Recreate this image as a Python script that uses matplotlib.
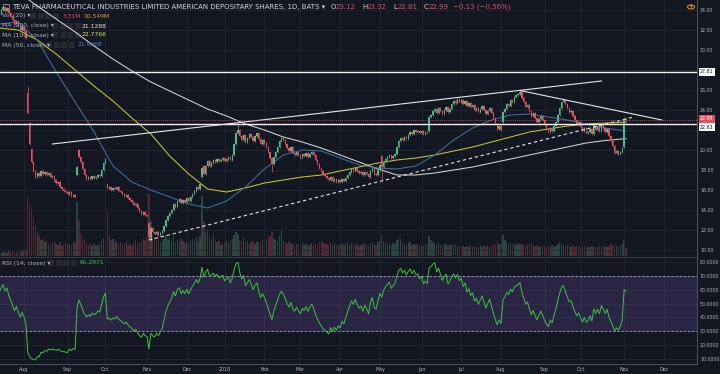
import numpy as np
import pandas as pd
import matplotlib
matplotlib.use("Agg")
import matplotlib.pyplot as plt
from matplotlib.patches import Rectangle, Circle

# ------------------------------------------------------------------ data
closes_2017_06 = [32.4, 32.9, 32.6, 33.1, 32.8, 32.2, 32.5, 32.0, 31.6, 31.9, 32.3, 31.8, 32.2]
closes_2017_07 = [32.6, 32.4, 32.9, 33.3, 33.0, 33.5, 33.8, 33.6, 34.0, 34.3, 33.9, 34.2, 33.7, 33.4,
                  33.0, 32.6, 32.9, 32.4, 32.0, 32.3]
closes_2017_08 = [31.9, 31.2, 23.7, 20.6, 18.8, 17.9, 17.3, 17.7, 17.4, 17.9, 17.6, 17.8, 17.5, 17.7,
                  17.3, 17.4, 17.0, 16.7, 16.8, 16.3, 16.1, 15.9, 15.8]
closes_2017_09 = [15.6, 15.8, 15.4, 15.5, 15.3, 18.3, 19.3, 18.8, 18.1, 17.5, 17.1, 17.3, 17.1, 17.4,
                  17.2, 17.3, 17.5, 17.4, 18.0, 18.7]
closes_2017_10 = [19.1, 16.2, 16.3, 16.0, 16.2, 16.1, 16.3, 15.9, 15.8, 15.6, 15.4, 15.5, 15.2, 15.0,
                  14.8, 14.5, 14.6, 14.2, 13.9, 13.6, 13.8, 13.5]
closes_2017_11 = [13.4, 11.3, 12.2, 11.8, 11.6, 11.8, 11.5, 11.7, 11.9, 12.4, 13.0, 13.4, 13.7, 14.0,
                  14.6, 14.3, 14.9, 15.1, 14.7, 15.0, 14.8]
closes_2017_12 = [15.2, 14.9, 15.3, 15.6, 15.9, 16.3, 16.1, 16.6, 18.2, 17.6, 18.4, 18.9, 18.4, 18.7,
                  19.0, 18.8, 19.1, 18.9, 19.0, 19.2]
closes_2018_01 = [18.9, 19.1, 19.3, 19.0, 19.5, 20.6, 21.7, 22.0, 21.4, 21.0, 21.5, 20.8, 21.2, 21.6,
                  21.3, 20.9, 21.4, 21.7, 21.1, 20.6, 21.0]
closes_2018_02 = [20.7, 20.3, 19.8, 19.2, 18.6, 19.3, 19.8, 20.3, 20.9, 21.2, 21.0, 20.6, 20.2, 19.9,
                  20.3, 19.7, 19.5, 19.8, 19.5]
closes_2018_03 = [19.2, 19.6, 19.4, 19.7, 19.3, 19.6, 19.8, 19.5, 19.0, 18.6, 18.2, 17.9, 17.6, 17.4,
                  17.2, 17.0, 17.3, 16.9, 17.1, 16.8, 17.0]
closes_2018_04 = [16.8, 17.1, 16.9, 17.2, 17.5, 17.8, 18.1, 17.9, 18.2, 17.9, 17.7, 17.8, 17.5, 17.8,
                  17.6, 17.3, 17.9, 18.2, 17.6, 17.5, 18.0]
closes_2018_05 = [18.5, 18.3, 18.8, 19.1, 19.3, 19.5, 19.2, 19.4, 19.6, 20.3, 20.9, 21.2, 21.0, 21.3,
                  21.1, 21.5, 21.8, 21.6, 22.0, 21.8, 21.9, 21.7]
closes_2018_06 = [21.9, 21.6, 21.8, 21.7, 23.3, 23.5, 23.9, 24.1, 23.7, 24.2, 23.9, 23.6, 24.0, 24.3,
                  23.8, 24.1, 24.6, 24.9, 24.7, 25.1, 24.8]
closes_2018_07 = [25.0, 24.6, 24.9, 24.4, 24.7, 24.3, 24.5, 24.0, 24.2, 23.8, 24.1, 24.4, 24.0, 23.6,
                  23.9, 24.2, 23.7, 23.2, 22.6, 22.1, 22.4]
closes_2018_08 = [22.0, 23.8, 24.1, 24.6, 24.4, 25.0, 24.8, 25.3, 25.5, 25.6, 25.8, 25.2, 24.8, 24.3,
                  24.5, 23.9, 23.4, 23.7, 23.2, 22.8, 23.1, 23.4, 23.0]
closes_2018_09 = [22.5, 22.1, 21.8, 22.2, 21.9, 22.4, 22.8, 23.5, 24.2, 24.8, 25.0, 24.6, 24.2, 23.8,
                  23.9, 23.4, 23.0, 22.6, 22.8]
closes_2018_10 = [22.3, 21.9, 22.2, 21.7, 21.8, 22.1, 21.6, 22.4, 22.0, 22.3, 21.9, 22.5, 22.2, 21.8,
                  22.1, 21.4, 20.9, 20.4, 19.7, 19.9, 19.6, 19.8, 20.2]
closes_2018_11 = [23.12, 22.99]

# opening gaps / notable wicks (date -> price)
gap_opens = {"2017-08-03": 25.7, "2017-08-04": 22.7, "2017-08-07": 20.1, "2017-09-11": 17.5,
             "2017-09-12": 20.0, "2017-10-03": 16.6, "2017-11-02": 12.7, "2017-11-03": 11.2,
             "2017-12-13": 17.3, "2017-12-14": 18.4, "2018-05-02": 19.4, "2018-06-07": 21.9,
             "2018-08-02": 22.8, "2018-11-01": 20.3, "2018-11-02": 23.12}
extra_highs = {"2017-08-03": 26.4, "2018-01-11": 22.7, "2018-08-15": 26.0, "2018-11-02": 23.32}
extra_lows = {"2017-11-02": 11.0, "2017-11-03": 10.9, "2018-02-07": 17.8, "2018-05-02": 17.0,
              "2018-11-02": 22.81}

vol_2017_06 = [1.2, 1.0, 1.3, 1.1, 1.2, 1.4, 1.0, 1.2, 1.3, 1.1, 1.2, 1.0, 1.3]
vol_2017_07 = [1.3, 1.1, 1.4, 1.2, 1.5, 1.3, 1.6, 1.2, 1.4, 1.8, 1.5, 1.3, 1.9, 1.6, 2.0, 1.7, 1.5,
               1.8, 2.1, 1.9]
vol_2017_08 = [2.2, 2.6, 23.5, 21.0, 19.5, 15.5, 12.0, 9.5, 8.0, 6.5, 7.0, 5.5, 6.0, 5.0, 4.8, 5.5,
               6.2, 5.0, 4.5, 5.8, 4.2, 4.6, 5.2]
vol_2017_09 = [4.8, 5.0, 4.4, 5.6, 5.2, 21.5, 14.5, 9.0, 7.5, 6.5, 5.0, 4.5, 5.2, 4.2, 4.8, 4.0, 4.6,
               5.0, 6.0, 7.2]
vol_2017_10 = [6.0, 17.5, 8.0, 6.5, 7.0, 5.8, 6.2, 5.0, 5.5, 4.8, 5.2, 6.0, 4.6, 5.0, 4.2, 5.4, 6.5,
               5.0, 5.8, 6.2, 7.0, 6.4]
vol_2017_11 = [7.5, 25.0, 14.0, 9.0, 7.5, 6.0, 6.8, 5.5, 6.2, 7.0, 8.5, 6.5, 7.2, 6.0, 8.0, 5.5, 6.5,
               5.8, 7.0, 6.0, 5.2]
vol_2017_12 = [5.8, 5.0, 6.2, 7.0, 6.5, 7.5, 6.0, 8.0, 24.0, 13.5, 9.5, 11.0, 8.5, 7.0, 9.0, 6.5,
               5.5, 6.0, 4.5, 5.0]
vol_2018_01 = [5.5, 6.0, 5.2, 6.5, 7.0, 8.5, 9.5, 9.0, 6.5, 6.0, 7.5, 5.5, 6.0, 5.0, 5.8, 6.2, 4.8,
               5.5, 6.0, 5.2, 6.5]
vol_2018_02 = [6.0, 7.0, 7.5, 8.0, 9.5, 7.0, 6.5, 6.0, 8.0, 11.0, 6.0, 5.5, 5.0, 5.8, 4.8, 5.2, 4.5,
               5.0, 4.6]
vol_2018_03 = [4.8, 5.2, 4.5, 5.0, 4.2, 4.6, 5.4, 4.8, 5.0, 4.4, 5.6, 6.0, 5.2, 4.8, 5.0, 4.5, 5.5,
               4.8, 5.2, 4.6, 4.4]
vol_2018_04 = [4.2, 4.8, 4.5, 5.0, 5.5, 4.6, 5.2, 4.8, 4.5, 5.0, 4.2, 4.6, 4.8, 5.2, 4.5, 4.0, 4.8,
               5.5, 5.0, 4.6, 5.8]
vol_2018_05 = [6.0, 8.5, 6.0, 5.5, 5.0, 4.8, 4.5, 5.2, 4.8, 6.5, 7.5, 6.8, 5.5, 5.0, 4.8, 5.2, 5.8,
               4.6, 5.0, 4.5, 4.8, 4.4]
vol_2018_06 = [4.5, 4.2, 4.8, 5.0, 8.0, 6.5, 5.8, 5.0, 4.8, 5.2, 4.6, 4.5, 5.0, 4.8, 4.2, 4.6, 5.0,
               4.5, 4.8, 4.2, 4.0]
vol_2018_07 = [3.8, 4.2, 3.6, 4.0, 3.8, 4.4, 3.5, 4.0, 3.8, 3.6, 4.2, 3.8, 4.0, 3.6, 4.5, 3.8, 4.0,
               4.6, 5.0, 5.5, 4.8]
vol_2018_08 = [5.0, 8.5, 6.5, 5.8, 5.0, 5.4, 4.8, 5.2, 4.6, 5.0, 4.8, 4.5, 5.0, 4.2, 4.6, 4.8, 5.2,
               4.4, 4.0, 4.5, 3.8, 4.2, 4.0]
vol_2018_09 = [4.2, 3.8, 4.0, 3.6, 4.4, 3.8, 4.0, 4.8, 5.5, 5.0, 4.6, 4.2, 4.8, 4.0, 3.8, 4.2, 3.6,
               4.0, 3.8]
vol_2018_10 = [3.8, 3.6, 4.0, 3.4, 3.8, 3.6, 4.2, 3.8, 3.5, 3.8, 4.0, 3.6, 3.8, 4.2, 3.6, 4.0, 4.8,
               4.4, 5.0, 4.2, 3.8, 4.5, 4.8]
vol_2018_11 = [6.4, 3.31]

# moving averages, sampled every 10 bars from 2017-07-13, plus the last bar
ma200 = [36.2, 35.8, 34.4, 33.1, 31.8, 30.4, 29.1, 27.9, 26.8, 25.9, 25.0, 24.1, 23.4, 22.6, 22.0,
         21.3, 20.8, 20.2, 19.5, 18.8, 18.1, 17.5, 17.5, 17.7, 18.0, 18.3, 18.7, 19.1, 19.5, 19.9,
         20.3, 20.7, 20.95, 21.12, 21.1288]
ma100 = [32.2, 32.0, 31.0, 29.6, 28.0, 26.4, 24.9, 23.2, 21.6, 19.4, 17.6, 16.1, 15.8, 16.2, 16.7,
         17.0, 17.3, 17.5, 17.9, 18.3, 18.7, 19.0, 19.2, 19.5, 19.9, 20.3, 20.8, 21.3, 21.8, 22.1,
         22.4, 22.6, 22.7, 22.77, 22.7766]
ma50 = [32.6, 32.8, 31.0, 27.8, 24.8, 21.8, 18.4, 16.8, 16.0, 15.3, 14.6, 14.2, 14.9, 16.3, 18.1,
        19.5, 20.0, 19.9, 19.2, 18.5, 18.2, 18.1, 18.4, 19.5, 21.0, 22.2, 23.0, 23.5, 23.6, 23.3,
        23.0, 22.6, 22.2, 21.92, 21.9068]

# drawing tools
trend_upper = [("2017-08-22", 20.6), ("2018-10-16", 26.9)]
trend_dashed = [("2017-11-02", 11.0), ("2018-11-08", 23.3)]
trend_desc = [("2018-08-15", 25.95), ("2018-11-30", 23.0)]
level_lines = [27.81, 22.63]
last_price = 22.99

month_labels = ["Aug", "Sep", "Oct", "Nov", "Dec", "2018", "Feb", "Mar", "Apr", "May", "Jun",
                "Jul", "Aug", "Sep", "Oct", "Nov", "Dec"]
price_ticks = list(range(10, 35, 2))
hidden_price_labels = [28, 22]      # covered by the price boxes on the scale
rsi_ticks = list(range(10, 90, 10))

# ------------------------------------------------------------------ prep
holidays = ["2017-07-04", "2017-09-04", "2017-11-23", "2017-12-25", "2018-01-01", "2018-01-15",
            "2018-02-19", "2018-03-30", "2018-05-28", "2018-07-04", "2018-09-03", "2018-11-22",
            "2018-12-05", "2018-12-25"]
cbd = pd.offsets.CustomBusinessDay(holidays=holidays)
all_dates = pd.date_range("2017-06-14", "2018-12-31", freq=cbd)

closes = np.array(closes_2017_06 + closes_2017_07 + closes_2017_08 + closes_2017_09 + closes_2017_10
                  + closes_2017_11 + closes_2017_12 + closes_2018_01 + closes_2018_02 + closes_2018_03
                  + closes_2018_04 + closes_2018_05 + closes_2018_06 + closes_2018_07 + closes_2018_08
                  + closes_2018_09 + closes_2018_10 + closes_2018_11)
vols = np.array(vol_2017_06 + vol_2017_07 + vol_2017_08 + vol_2017_09 + vol_2017_10 + vol_2017_11
                + vol_2017_12 + vol_2018_01 + vol_2018_02 + vol_2018_03 + vol_2018_04 + vol_2018_05
                + vol_2018_06 + vol_2018_07 + vol_2018_08 + vol_2018_09 + vol_2018_10 + vol_2018_11)
n = len(closes)
x = np.arange(n)


def idx(d):
    return all_dates.get_loc(pd.Timestamp(d))


opens = np.r_[closes[0], closes[:-1]].astype(float)
for d, v in gap_opens.items():
    opens[idx(d)] = v
WICK = 0.12
highs = np.maximum(opens, closes) + WICK
lows = np.minimum(opens, closes) - WICK
for d, v in extra_highs.items():
    highs[idx(d)] = v
for d, v in extra_lows.items():
    lows[idx(d)] = v

# RSI(14), Wilder smoothing
period = 14
delta = np.diff(closes)
gain = np.clip(delta, 0, None)
loss = np.clip(-delta, 0, None)
rsi = np.full(n, np.nan)
ag, al = gain[:period].mean(), loss[:period].mean()
rsi[period] = 100 - 100 / (1 + ag / al)
for i in range(period + 1, n):
    ag = (ag * (period - 1) + gain[i - 1]) / period
    al = (al * (period - 1) + loss[i - 1]) / period
    rsi[i] = 100 - 100 / (1 + ag / al)

ma_x = list(range(idx("2017-07-13"), n, 10)) + [n - 1]

# ------------------------------------------------------------------ style
BG = "#131722"
GRID = "#22262f"
TXT = "#b2b5be"
UP = "#53b987"
DN = "#eb4d5c"
FS_AX = 3.45

W, H = 720, 374
fig = plt.figure(figsize=(W / 100, H / 100), dpi=100, facecolor=BG)
RIGHT = 697
ax = fig.add_axes([0, 1 - 256 / H, RIGHT / W, 256 / H])
axr = fig.add_axes([0, 1 - 363 / H, RIGHT / W, 105 / H])
axv = ax.twinx()
ax.set_zorder(axv.get_zorder() + 1)
ax.patch.set_visible(False)
axv.set_facecolor(BG)
axr.set_facecolor(BG)

aug1 = idx("2017-08-01")
px_per_bar = 1.893
xl = (aug1 - 24 / px_per_bar, aug1 + (RIGHT - 24) / px_per_bar)

month_starts = pd.date_range("2017-08-01", "2018-12-01", freq="MS")
tick_pos = [int(np.searchsorted(all_dates, m)) for m in month_starts]

for a in (ax, axr):
    a.set_xlim(*xl)
    a.set_xticks(tick_pos)
    a.grid(True, color=GRID, lw=0.6)
    a.set_axisbelow(True)
    for s in a.spines.values():
        s.set_visible(False)
    a.yaxis.tick_right()
    a.tick_params(axis="both", length=0, colors=TXT, labelsize=FS_AX)

ax.set_xticklabels([])
axr.set_xticklabels(month_labels)
axr.tick_params(axis="x", pad=3)

ax.set_ylim(9.4, 35.0)
ax.set_yticks(price_ticks)
ax.set_yticklabels(["" if v in hidden_price_labels else f"{v:.2f}" for v in price_ticks])
ax.tick_params(axis="y", pad=2.2)

axv.set_ylim(0, 102.4)
axv.set_yticks([])
for s in axv.spines.values():
    s.set_visible(False)
axv.set_xlim(*xl)

# volume
vcol = [(0.33, 0.73, 0.53, 0.30) if c >= o else (0.92, 0.30, 0.36, 0.30) for o, c in zip(opens, closes)]
axv.bar(x, vols, width=0.72, color=vcol, linewidth=0)

# moving averages
ax.plot(ma_x, ma200, color="#d6d6d6", lw=0.75, zorder=2)
ax.plot(ma_x, ma100, color="#c6c62a", lw=0.75, zorder=2)
ax.plot(ma_x, ma50, color="#3f6fa0", lw=0.75, zorder=2)

# candles
ccol = np.where(closes >= opens, UP, DN)
ax.vlines(x, lows, highs, colors=ccol, lw=0.5, zorder=3)
body_b = np.minimum(opens, closes)
body_h = np.maximum(np.abs(closes - opens), 0.07)
ax.bar(x, body_h, bottom=body_b, width=0.72, color=ccol, linewidth=0, zorder=4)

# drawings
for (d0, p0), (d1, p1) in [trend_upper, trend_desc]:
    ax.plot([idx(d0), idx(d1)], [p0, p1], color="#e6e6e6", lw=0.8, zorder=5)
(d0, p0), (d1, p1) = trend_dashed
ax.plot([idx(d0), idx(d1)], [p0, p1], color="#e6e6e6", lw=0.8, ls=(0, (3, 2.5)), zorder=5)
for lv in level_lines:
    ax.axhline(lv, color="#f0f0f0", lw=1.0, zorder=5)
ax.axhline(last_price, color=DN, lw=0.6, ls=(0, (1, 1.5)), zorder=5)


def price_box(val, fc, tc, dy_pt):
    ax.annotate(f"{val:.2f}", xy=(1.0, val), xycoords=("axes fraction", "data"),
                xytext=(2.2, dy_pt), textcoords="offset points", fontsize=FS_AX, color=tc,
                va="center", ha="left", annotation_clip=False, zorder=10,
                bbox=dict(boxstyle="square,pad=0.3", fc=fc, ec="none"))


price_box(level_lines[0], "#ffffff", "#131722", 0)
price_box(last_price, DN, "#ffffff", 0.8)
price_box(level_lines[1], "#ffffff", "#131722", -2.6)

# RSI pane
axr.set_ylim(7.1, 82.9)
axr.set_yticks(rsi_ticks)
axr.set_yticklabels([f"{v:.4f}" for v in rsi_ticks])
axr.tick_params(axis="y", pad=2.2)
axr.axhspan(30, 70, color="#7e57c2", alpha=0.22, lw=0)
for lv in (70, 30):
    axr.axhline(lv, color="#a99cc7", lw=0.6, ls=(0, (3, 2)))
axr.plot(x, rsi, color="#3ec23e", lw=0.7)

# separators / borders
fig.add_artist(plt.Line2D([0, RIGHT / W], [1 - 257 / H, 1 - 257 / H], color="#3a3e4a", lw=0.7))
fig.add_artist(plt.Line2D([0, RIGHT / W], [1 - 363.5 / H, 1 - 363.5 / H], color="#50535e", lw=0.7))
fig.add_artist(plt.Line2D([RIGHT / W, RIGHT / W], [1 - 363.5 / H, 1], color="#50535e", lw=0.7))


# ------------------------------------------------------------------ header / legends
def ft(px, py, s, color=TXT, fs=4.3, **kw):
    fig.text(px / W, 1 - py / H, s, color=color, fontsize=fs, va="center", ha="left",
             family="DejaVu Sans", **kw)


def icons(px0, py, k=4):
    for j in range(k):
        fig.add_artist(Rectangle(((px0 + j * 7.5) / W, 1 - (py + 3) / H), 6 / W, 6 / H,
                                 transform=fig.transFigure, fc="#262a35", ec="none"))


fig.add_artist(Rectangle((3 / W, 1 - 10 / H), 6 / W, 6 / H, transform=fig.transFigure,
                         fc="none", ec=TXT, lw=0.5))
ft(12, 7, "TEVA PHARMACEUTICAL INDUSTRIES LIMITED AMERICAN DEPOSITARY SHARES, 1D, BATS \u25be",
   color="#d1d4dc", fs=5.0)
ohlc = [("O", "23.12"), ("H", "23.32"), ("L", "22.81"), ("C", "22.99")]
px0 = 331
for lab, val in ohlc:
    ft(px0, 7, lab, fs=5.0, color="#d1d4dc")
    ft(px0 + 5, 7, val, fs=5.0, color=DN)
    px0 += 31
ft(px0 - 2, 7, "\u22120.13 (\u22120.56%)", fs=5.0, color=DN)

ft(2, 16, "Vol (20) \u25be", fs=4.3)
icons(30, 16)
ft(63, 16, "3.31M", fs=4.3, color=DN)
ft(83, 16, "10.549M", fs=4.3, color="#e59b3f")
ft(2, 26, "MA (200, close) \u25be", fs=4.3)
icons(52, 26)
ft(82, 26, "21.1288", fs=4.3, color="#e8e8e8")
ft(2, 35, "MA (100, close) \u25be", fs=4.3)
icons(52, 35)
ft(82, 35, "22.7766", fs=4.3, color="#e8e82e")
ft(2, 45, "MA (50, close) \u25be", fs=4.3)
icons(46, 45)
ft(78, 45, "21.9068", fs=4.3, color="#3c8ad9")
ft(2, 263, "RSI (14, close) \u25be", fs=4.3)
icons(48, 263)
ft(80, 263, "60.2871", fs=4.3, color="#3ec23e")

fig.add_artist(Circle((691 / W, 1 - 7 / H), 3.6 / W, transform=fig.transFigure, fc="none",
                      ec="#ff9800", lw=0.7))
fig.text(691 / W, 1 - 7 / H, "!", color="#ff9800", fontsize=4.2, ha="center", va="center",
         fontweight="bold")

fig.savefig("out.png", dpi=100, facecolor=BG)
